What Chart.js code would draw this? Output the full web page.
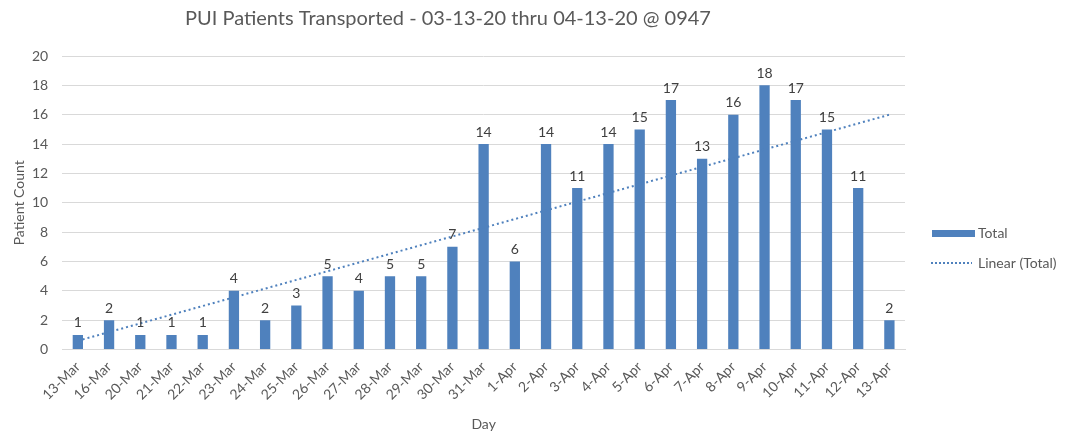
<!DOCTYPE html>
<html><head><meta charset="utf-8">
<script src="https://cdn.jsdelivr.net/npm/chart.js@4/dist/chart.umd.min.js"></script>
<style>html,body{margin:0;padding:0;background:#fff}#wrap{width:1077px;height:435px}</style>
</head><body><div id="wrap"><canvas id="c" width="1077" height="435"></canvas></div>
<script>
const categories = ["13-Mar","16-Mar","20-Mar","21-Mar","22-Mar","23-Mar","24-Mar","25-Mar","26-Mar","27-Mar","28-Mar","29-Mar","30-Mar","31-Mar","1-Apr","2-Apr","3-Apr","4-Apr","5-Apr","6-Apr","7-Apr","8-Apr","9-Apr","10-Apr","11-Apr","12-Apr","13-Apr"];
const totals = [1,2,1,1,1,4,2,3,5,4,5,5,7,14,6,14,11,14,15,17,13,16,18,17,15,11,2];
const trendStart = 0.6;
const trendEnd = 16.0;
const yTicks = [0,2,4,6,8,10,12,14,16,18,20];
const titleText = "PUI Patients Transported - 03-13-20 thru 04-13-20 @ 0947";
const yTitle = "Patient Count";

const trend = categories.map((c,i)=> i===0 ? trendStart : (i===categories.length-1 ? trendEnd : null));
const FONT = "Lato, 'Open Sans', sans-serif";
const BAR = "#4f81bd";

const extras = {
  id:'extras',
  afterDatasetsDraw(chart){
    const ctx = chart.ctx;
    const meta = chart.getDatasetMeta(0);
    const ca = chart.chartArea;
    ctx.save();
    ctx.fillStyle = '#404040';
    ctx.font = "14px " + FONT;
    ctx.textAlign = 'center';
    ctx.textBaseline = 'bottom';
    meta.data.forEach((el,i)=>{
      ctx.fillText(String(totals[i]), el.x, el.y - 5);
    });
    // title
    ctx.fillStyle = '#595959';
    ctx.font = "20px " + FONT;
    ctx.textBaseline = 'middle';
    ctx.fillText(titleText, 448, 19);
    // y title
    ctx.save();
    ctx.font = "14px " + FONT;
    ctx.translate(19, (ca.top + ca.bottom) / 2);
    ctx.rotate(-Math.PI / 2);
    ctx.fillText(yTitle, 0, 0);
    ctx.restore();
    // legend
    ctx.textAlign = 'left';
    ctx.font = "14px " + FONT;
    ctx.fillStyle = BAR;
    ctx.fillRect(932, 230, 43, 7);
    ctx.fillStyle = '#595959';
    ctx.fillText("Total", 978, 233);
    ctx.strokeStyle = BAR;
    ctx.lineWidth = 2;
    ctx.setLineDash([2,2]);
    ctx.beginPath(); ctx.moveTo(931, 263); ctx.lineTo(972, 263); ctx.stroke();
    ctx.setLineDash([]);
    ctx.fillText("Linear (Total)", 978, 263);
    ctx.restore();
  }
};

new Chart(document.getElementById('c'), {
  type:'bar',
  data:{
    labels: categories,
    datasets:[
      {type:'bar', label:'Total', data: totals, backgroundColor: BAR, borderWidth:0,
       barPercentage:0.33, categoryPercentage:1.0, order:2},
      {type:'line', label:'Linear (Total)', data: trend, spanGaps:true, borderColor: BAR,
       borderWidth:2, borderDash:[2,3], pointRadius:0, fill:false, order:1}
    ]
  },
  options:{
    responsive:false, animation:false,
    layout:{padding:{top:56, right:172, left:18, bottom:2}},
    plugins:{legend:{display:false}, title:{display:false}, tooltip:{enabled:false}},
    scales:{
      x:{
        grid:{display:false, drawTicks:false},
        border:{display:true, color:'#d9d9d9', width:1},
        ticks:{color:'#595959', font:{family:FONT, size:14}, maxRotation:45, minRotation:45, autoSkip:false, padding:9},
        title:{display:true, text:'Day', color:'#595959', font:{family:FONT, size:14}, padding:{top:4,bottom:0}}
      },
      y:{
        min:0, max:20,
        afterBuildTicks(axis){ axis.ticks = yTicks.map(v=>({value:v})); },
        grid:{color:'#d9d9d9', lineWidth:1, drawTicks:false},
        border:{display:false},
        ticks:{color:'#595959', font:{family:FONT, size:14}, padding:14},
        title:{display:false}
      }
    }
  },
  plugins:[extras]
});
</script></body></html>
